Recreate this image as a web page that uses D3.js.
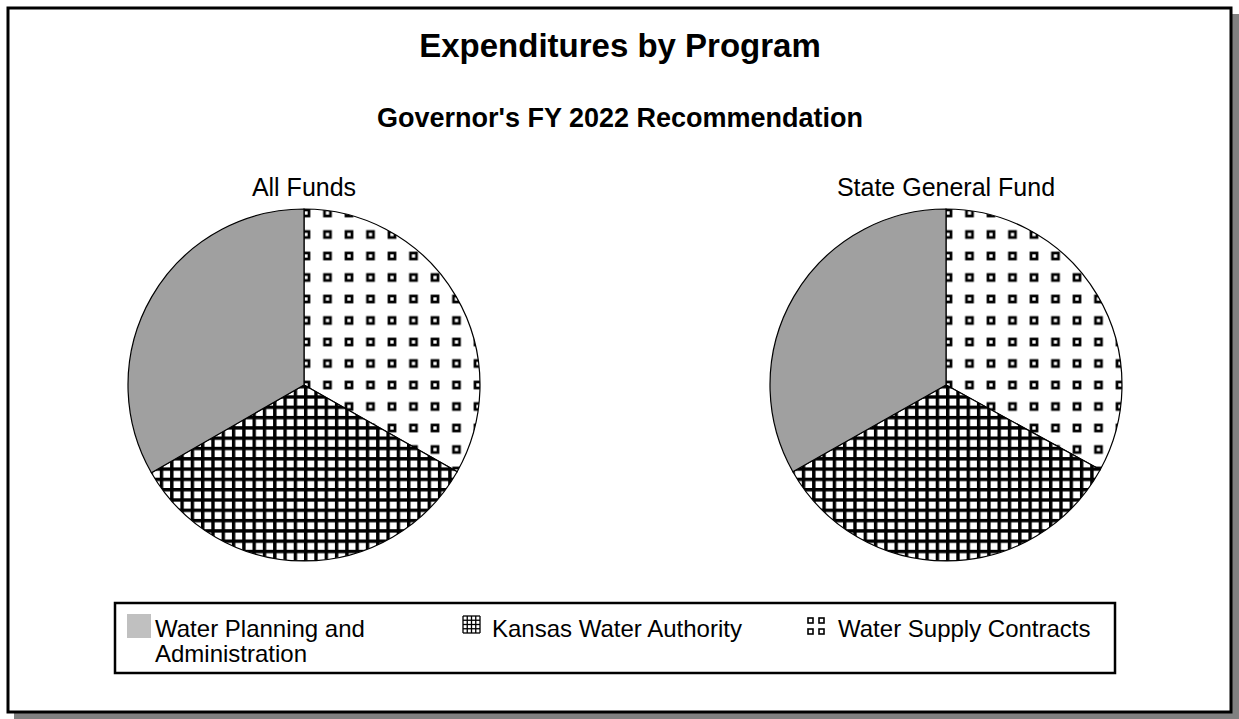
<!DOCTYPE html>
<html>
<head>
<meta charset="utf-8">
<script src="https://cdn.jsdelivr.net/npm/d3@7"></script>
<style>
  html, body { margin: 0; padding: 0; background: #fff; }
  svg { display: block; font-family: "Liberation Sans", Arial, sans-serif; }
</style>
</head>
<body>
<svg id="chart" width="1239" height="719"></svg>
<script>
// ---- data ----
const categories = ["Water Planning and Administration", "Kansas Water Authority", "Water Supply Contracts"];
const allFunds = [33.3, 33.5, 33.2];
const stateGeneralFund = [33.2, 33.8, 33.0];
const pieTitles = ["All Funds", "State General Fund"];
const chartTitle = "Expenditures by Program";
const chartSubtitle = "Governor's FY 2022 Recommendation";
// slice drawing order clockwise from 12 o'clock
const sliceOrder = [2, 1, 0];

const svg = d3.select("#chart");
const W = 1239, H = 719;

// ---- patterns ----
const defs = svg.append("defs");
const dotP = 21.5;
const dots = defs.append("pattern").attr("id", "dots")
  .attr("patternUnits", "userSpaceOnUse")
  .attr("width", dotP).attr("height", dotP)
  .attr("x", -dotP / 2 + 2).attr("y", -dotP / 2);
dots.append("rect").attr("width", dotP).attr("height", dotP).attr("fill", "#fff");
dots.append("rect").attr("x", dotP / 2 - 3).attr("y", dotP / 2 - 3)
  .attr("width", 6).attr("height", 6).attr("fill", "#fff")
  .attr("stroke", "#000").attr("stroke-width", 2.7);

const hP = 10.3;
const hatch = defs.append("pattern").attr("id", "hatch")
  .attr("patternUnits", "userSpaceOnUse")
  .attr("width", hP).attr("height", hP);
hatch.append("rect").attr("width", hP).attr("height", hP).attr("fill", "#fff");
hatch.append("rect").attr("x", 0).attr("y", 0).attr("width", 3.4).attr("height", hP).attr("fill", "#000");
hatch.append("rect").attr("x", 0).attr("y", 0).attr("width", hP).attr("height", 3.4).attr("fill", "#000");

const fills = ["#a0a0a0", "url(#hatch)", "url(#dots)"];

// ---- frame with shadow ----
svg.append("rect").attr("x", 14).attr("y", 14).attr("width", W - 14).attr("height", H - 14).attr("fill", "#808080");
svg.append("rect").attr("x", 8).attr("y", 8).attr("width", 1223).attr("height", 704)
  .attr("fill", "#fff").attr("stroke", "#000").attr("stroke-width", 3);

// ---- titles ----
svg.append("text").attr("x", 620).attr("y", 57).attr("text-anchor", "middle")
  .attr("font-size", 33).attr("font-weight", "bold").text(chartTitle);
svg.append("text").attr("x", 620).attr("y", 127).attr("text-anchor", "middle")
  .attr("font-size", 27).attr("font-weight", "bold").text(chartSubtitle);

// ---- pies ----
const centers = [304, 946];
const cy = 385, R = 176;
const pie = d3.pie().sort(null).value(d => d.v);
const arc = d3.arc().innerRadius(0).outerRadius(R);
[allFunds, stateGeneralFund].forEach((vals, k) => {
  const g = svg.append("g").attr("transform", `translate(${centers[k]},${cy})`);
  const data = sliceOrder.map(i => ({ i, v: vals[i] }));
  g.selectAll("path").data(pie(data)).join("path")
    .attr("d", arc)
    .attr("fill", d => fills[d.data.i])
    .attr("stroke", "#000").attr("stroke-width", 1.2);
  svg.append("text").attr("x", centers[k]).attr("y", 196).attr("text-anchor", "middle")
    .attr("font-size", 25).text(pieTitles[k]);
});

// ---- legend ----
const lg = svg.append("g");
lg.append("rect").attr("x", 115).attr("y", 603).attr("width", 1000).attr("height", 70)
  .attr("fill", "#fff").attr("stroke", "#000").attr("stroke-width", 2.5);

const legendX = [127, 463, 807];
const textX = [155, 492, 838];
// swatch 0: gray square
lg.append("rect").attr("x", legendX[0]).attr("y", 614).attr("width", 24).attr("height", 24).attr("fill", "#c0c0c0");
// swatch 1: grid icon
const g1 = lg.append("g").attr("transform", `translate(${legendX[1]},616)`);
d3.range(5).forEach(j => {
  g1.append("line").attr("x1", j * 4.25).attr("x2", j * 4.25).attr("y1", 0).attr("y2", 17).attr("stroke", "#000").attr("stroke-width", 1.3);
  g1.append("line").attr("y1", j * 4.25).attr("y2", j * 4.25).attr("x1", 0).attr("x2", 17).attr("stroke", "#000").attr("stroke-width", 1.3);
});
// swatch 2: four small squares
const g2 = lg.append("g").attr("transform", `translate(${legendX[2]},617)`);
[[0, 0], [11, 0], [0, 11], [11, 11]].forEach(([dx, dy]) => {
  g2.append("rect").attr("x", dx + 1).attr("y", dy + 1).attr("width", 5).attr("height", 5)
    .attr("fill", "#fff").attr("stroke", "#000").attr("stroke-width", 1.6);
});

const legendLines = [["Water Planning and", "Administration"], [categories[1]], [categories[2]]];
legendLines.forEach((lines, i) => {
  const t = lg.append("text").attr("x", textX[i]).attr("y", 637).attr("font-size", 24);
  lines.forEach((ln, j) => t.append("tspan").attr("x", textX[i]).attr("dy", j === 0 ? 0 : 25).text(ln));
});
</script>
</body>
</html>
